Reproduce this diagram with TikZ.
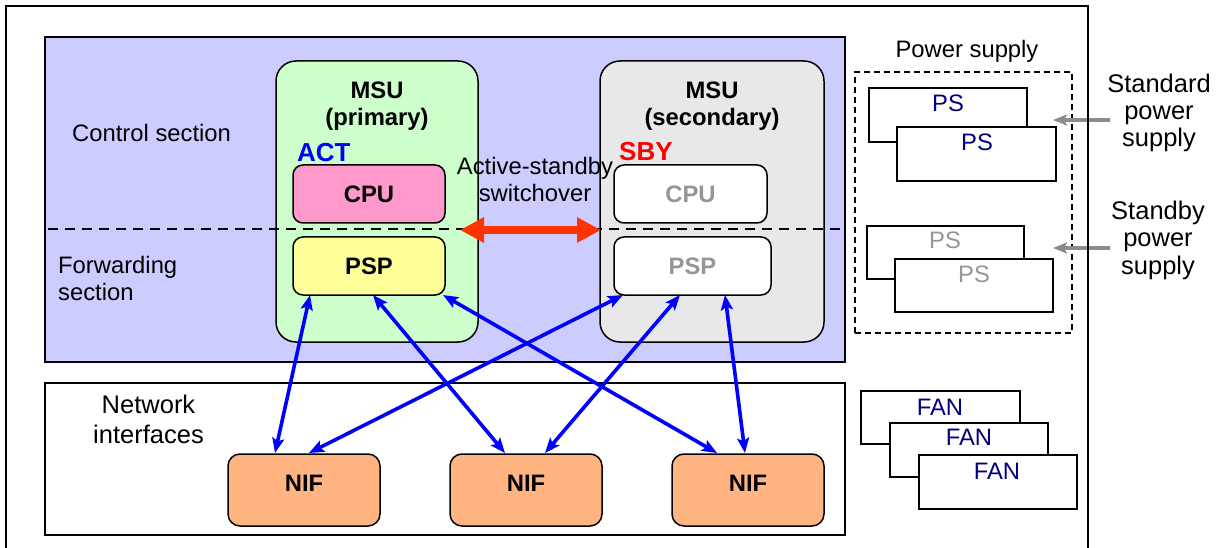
\documentclass[tikz,border=0pt]{standalone}
\usepackage{fontspec}
\setmainfont{Liberation Sans}
\usetikzlibrary{arrows.meta,calc}
\definecolor{ctrlfill}{RGB}{204,204,255}
\definecolor{msugreen}{RGB}{204,255,204}
\definecolor{msugray}{RGB}{232,232,232}
\definecolor{cpupink}{RGB}{255,153,204}
\definecolor{pspyellow}{RGB}{255,255,153}
\definecolor{niforange}{RGB}{255,180,130}
\definecolor{swred}{RGB}{255,51,0}
\definecolor{navytxt}{RGB}{0,0,128}
\definecolor{dimtxt}{RGB}{150,150,150}
\definecolor{arrgray}{RGB}{140,140,140}
\newcommand\myfs{\fontsize{23.8}{28}\selectfont}
\newcommand\mybig{\fontsize{26}{30}\selectfont}
\newcommand\mymid{\fontsize{25.5}{30}\selectfont}
\begin{document}
\begin{tikzpicture}[x=1pt,y=-1pt,
  box/.style={draw, line width=1.5pt, inner sep=0pt, outer sep=0pt, anchor=north west},
  txt/.style={inner sep=0pt, anchor=base, font=\myfs},
  btxt/.style={inner sep=0pt, anchor=base, font=\myfs\bfseries},
  blink/.style={draw=blue, line width=3.6pt,
    {Stealth[length=15pt,width=12pt,inset=3pt]}-{Stealth[length=15pt,width=12pt,inset=3pt]}},
  glink/.style={draw=arrgray, line width=4pt, -{Stealth[length=14pt,width=11pt,inset=3pt]}},
]
\useasboundingbox (0,0) rectangle (1221,548);
\fill[white] (0,0) rectangle (1221,548);
% outer frame
\draw[line width=1.8pt] (6,548) -- (6,6) -- (1088,6) -- (1088,548);

% sections
\node[box, fill=ctrlfill, line width=1.8pt, minimum width=800pt, minimum height=325pt] (ctrl) at (45,37) {};
\node[box, fill=white, line width=1.8pt, minimum width=800pt, minimum height=152pt] (nwk) at (45,383) {};

% MSUs
\node[box, fill=msugreen, rounded corners=20pt, minimum width=202pt, minimum height=281pt] (msu1) at (276,61) {};
\node[box, fill=msugray, rounded corners=20pt, minimum width=224pt, minimum height=281pt] (msu2) at (600,61) {};

\node[box, fill=cpupink, rounded corners=10pt, minimum width=152pt, minimum height=58pt, font=\myfs\bfseries] (cpu1) at (293,165) {CPU};
\node[box, fill=pspyellow, rounded corners=10pt, minimum width=152pt, minimum height=58pt, font=\myfs\bfseries] (psp1) at (293,237) {PSP};
\node[box, fill=white, rounded corners=10pt, minimum width=153pt, minimum height=58pt, font=\myfs\bfseries, text=dimtxt] (cpu2) at (614,165) {CPU};
\node[box, fill=white, rounded corners=10pt, minimum width=157pt, minimum height=58pt, font=\myfs\bfseries, text=dimtxt] (psp2) at (614,237) {PSP};

% section divider
\coordinate (dl) at (48,229);
\coordinate (dr) at (845,229);
\draw[line width=2.8pt, dash pattern=on 10pt off 7pt] (dl) -- (dr);

% labels in control area
\node[txt, anchor=base west] (ctrlt) at (72,142) {Control section};
\node[txt, anchor=base west] (fwd1) at (58,273) {Forwarding};
\node[txt, anchor=base west] (fwd2) at (58,300) {section};
\node[btxt] (msu1a) at (377,99) {MSU};
\node[btxt] (msu1b) at (377,126) {(primary)};
\node[btxt] (msu2a) at (712,99) {MSU};
\node[btxt] (msu2b) at (712,126) {(secondary)};
\node[inner sep=0pt, anchor=base west, font=\mybig\bfseries, text=blue] (act) at (297,162) {ACT};
\node[inner sep=0pt, anchor=base west, font=\mybig\bfseries, text=red] (sby) at (619,161) {SBY};
\node[txt] (sw1) at (535,175) {Active-standby};
\node[txt] (sw2) at (535,202) {switchover};

% switchover arrow
\coordinate (swl) at (460,230);
\coordinate (swr) at (601,230);
\draw[draw=swred, line width=8.5pt, {Triangle[length=24pt,width=24pt]}-{Triangle[length=24pt,width=24pt]}] (swl) -- (swr);

% network interfaces
\node[txt, font=\mymid] (nwt1) at (148.5,413) {Network};
\node[txt, font=\mymid] (nwt2) at (148.5,443) {interfaces};
\node[box, fill=niforange, rounded corners=12pt, minimum width=152pt, minimum height=72pt, font=\myfs\bfseries, text depth=14pt] (nif1) at (228,454) {NIF};
\node[box, fill=niforange, rounded corners=12pt, minimum width=152pt, minimum height=72pt, font=\myfs\bfseries, text depth=14pt] (nif2) at (450,454) {NIF};
\node[box, fill=niforange, rounded corners=12pt, minimum width=152pt, minimum height=72pt, font=\myfs\bfseries, text depth=14pt] (nif3) at (672,454) {NIF};

% PSP - NIF links
\draw[blink] ($(psp1.south west)+(17,0)$) -- ($(nif1.north west)+(47,-1)$);
\draw[blink] ($(psp2.south west)+(9,0)$) -- ($(nif1.north west)+(81,-1)$);
\draw[blink] ($(psp1.south west)+(80,0)$) -- ($(nif2.north west)+(55,-1)$);
\draw[blink] ($(psp2.south west)+(66,0)$) -- ($(nif2.north west)+(95,-1)$);
\draw[blink] ($(psp1.south west)+(150,0)$) -- ($(nif3.north west)+(45,-1)$);
\draw[blink] ($(psp2.south west)+(111,0)$) -- ($(nif3.north west)+(73,-1)$);

% power supply
\node[txt] (pst) at (967,58) {Power supply};
\node[box, line width=1.5pt, dash pattern=on 6pt off 4pt, minimum width=217pt, minimum height=261pt] (psbox) at (855,72) {};
\node[box, fill=white, minimum width=158pt, minimum height=54pt] (ps1) at (869,88) {};
\node[txt, text=navytxt] (ps1t) at (948,112) {PS};
\node[box, fill=white, minimum width=159pt, minimum height=54pt] (ps2) at (897,127) {};
\node[txt, text=navytxt] (ps2t) at (977,151) {PS};
\node[box, fill=white, minimum width=157pt, minimum height=53pt] (ps3) at (867,226) {};
\node[txt, text=dimtxt] (ps3t) at (945,249) {PS};
\node[box, fill=white, minimum width=158pt, minimum height=53pt] (ps4) at (895,259) {};
\node[txt, text=dimtxt] (ps4t) at (974,283) {PS};

\node[txt, font=\mymid] (std1) at (1159,93) {Standard};
\node[txt, font=\mymid] (std2) at (1159,120) {power};
\node[txt, font=\mymid] (std3) at (1159,147) {supply};
\node[txt, font=\mymid] (sbp1) at (1158,220) {Standby};
\node[txt, font=\mymid] (sbp2) at (1158,247) {power};
\node[txt, font=\mymid] (sbp3) at (1158,274) {supply};

\coordinate (g1s) at (1110,120);
\coordinate (g1e) at (1053,120);
\coordinate (g2s) at (1110,248);
\coordinate (g2e) at (1053,248);
\draw[glink] (g1s) -- (g1e);
\draw[glink] (g2s) -- (g2e);
\draw[line width=1.8pt] (1088,100) -- (1088,140);
\draw[line width=1.8pt] (1088,230) -- (1088,268);

% fans
\node[box, fill=white, minimum width=159pt, minimum height=53pt] (fan1) at (861,391) {};
\node[txt, text=navytxt] (fan1t) at (940,415) {FAN};
\node[box, fill=white, minimum width=158pt, minimum height=54pt] (fan2) at (890,423) {};
\node[txt, text=navytxt] (fan2t) at (969,445) {FAN};
\node[box, fill=white, minimum width=158pt, minimum height=54pt] (fan3) at (919,455) {};
\node[txt, text=navytxt] (fan3t) at (997,479) {FAN};
\end{tikzpicture}
\end{document}
